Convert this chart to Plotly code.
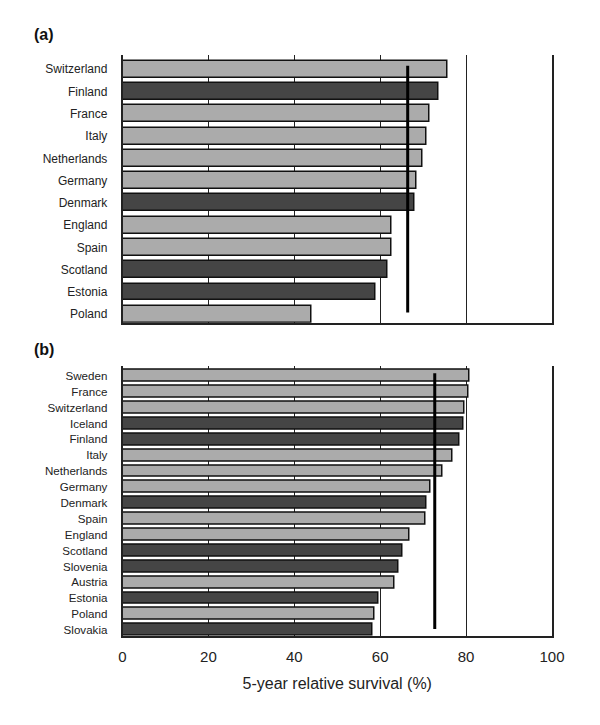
import plotly.graph_objects as go

# Panel (a)
countries_a = ["Switzerland", "Finland", "France", "Italy", "Netherlands", "Germany",
               "Denmark", "England", "Spain", "Scotland", "Estonia", "Poland"]
survival_a = [75.7, 73.5, 71.4, 70.7, 69.9, 68.5, 68.1, 62.6, 62.7, 61.7, 58.8, 44.0]
dark_a = [0, 1, 0, 0, 0, 0, 1, 0, 0, 1, 1, 0]
mean_a = 66.4

# Panel (b)
countries_b = ["Sweden", "France", "Switzerland", "Iceland", "Finland", "Italy", "Netherlands",
               "Germany", "Denmark", "Spain", "England", "Scotland", "Slovenia", "Austria",
               "Estonia", "Poland", "Slovakia"]
survival_b = [80.7, 80.5, 79.6, 79.3, 78.5, 76.9, 74.5, 71.8, 70.7, 70.5, 66.8, 65.2, 64.3,
              63.3, 59.6, 58.7, 58.3]
dark_b = [0, 0, 0, 1, 1, 0, 0, 0, 1, 0, 0, 1, 1, 0, 1, 0, 1]
mean_b = 72.7

x_ticks = [0, 20, 40, 60, 80, 100]

LIGHT = "#ababab"
DARK = "#454545"
FONT = "Liberation Sans, Arial, sans-serif"

W, H = 600, 725
x_left, x_right = 122.5, 552.0

def ydom(top, bottom):
    return [(H - bottom) / H, (H - top) / H]

fig = go.Figure()

fig.add_trace(go.Bar(
    x=survival_a, y=countries_a, orientation="h",
    marker=dict(color=[DARK if d else LIGHT for d in dark_a], line=dict(color="#111", width=1.5)),
    width=0.76, xaxis="x", yaxis="y", showlegend=False, hoverinfo="x+y"))

fig.add_trace(go.Bar(
    x=survival_b, y=countries_b, orientation="h",
    marker=dict(color=[DARK if d else LIGHT for d in dark_b], line=dict(color="#111", width=1.5)),
    width=0.75, xaxis="x2", yaxis="y2", showlegend=False, hoverinfo="x+y"))

na, nb = len(countries_a), len(countries_b)

xcommon = dict(range=[0, 100], tickvals=x_ticks,
               showgrid=True, gridcolor="#222", gridwidth=1.2,
               showline=True, linecolor="#222", linewidth=1.5,
               zeroline=False, ticks="", domain=[x_left / W, x_right / W],
               automargin=False,
               tickfont=dict(family=FONT, size=15, color="#222"))

fig.update_layout(
    width=W, height=H, autosize=False,
    margin=dict(l=0, r=0, t=0, b=0, pad=0, autoexpand=False),
    paper_bgcolor="white", plot_bgcolor="white",
    bargap=0,
    xaxis=dict(**xcommon, anchor="y", showticklabels=False),
    yaxis=dict(domain=ydom(55, 322.7), type="category", categoryorder="array",
               categoryarray=countries_a, range=[na - 1 + 0.38, -0.64],
               showline=True, mirror=True, linecolor="#222", linewidth=1.5,
               showgrid=False, ticks="", ticklabelstandoff=11, automargin=False,
               tickfont=dict(family=FONT, size=12, color="#222"), anchor="x"),
    xaxis2=dict(**xcommon, anchor="y2", showticklabels=True, ticklabelstandoff=7,
                title=dict(text="5-year relative survival (%)", standoff=13,
                           font=dict(family=FONT, size=16, color="#222"))),
    yaxis2=dict(domain=ydom(365.7, 635.7), type="category", categoryorder="array",
                categoryarray=countries_b, range=[nb - 1 + 0.36, -0.64],
                showline=True, mirror=True, linecolor="#222", linewidth=1.5,
                showgrid=False, ticks="", ticklabelstandoff=11, automargin=False,
                tickfont=dict(family=FONT, size=11.6, color="#222"), anchor="x2"),
    shapes=[
        dict(type="line", xref="x", yref="y", x0=mean_a, x1=mean_a, y0=-0.16, y1=na - 1 - 0.08,
             line=dict(color="black", width=3)),
        dict(type="line", xref="x2", yref="y2", x0=mean_b, x1=mean_b, y0=-0.16, y1=nb - 1 - 0.06,
             line=dict(color="black", width=3)),
    ],
    annotations=[
        dict(text="<b>(a)</b>", x=32 / W, y=(H - 35) / H, xref="paper", yref="paper",
             xanchor="left", yanchor="middle", showarrow=False,
             font=dict(family=FONT, size=16, color="#111")),
        dict(text="<b>(b)</b>", x=32 / W, y=(H - 349) / H, xref="paper", yref="paper",
             xanchor="left", yanchor="middle", showarrow=False,
             font=dict(family=FONT, size=16, color="#111")),
    ],
)

post = ("document.documentElement.style.margin='0';document.body.style.margin='0';"
        "document.body.style.padding='0';document.body.style.overflow='hidden';"
        "document.documentElement.style.overflow='hidden';"
        "var gd=document.getElementById('{plot_id}');"
        "Plotly.relayout(gd,{width:600,height:725});")

fig.write_html("out.html", post_script=post, config={"responsive": False, "displayModeBar": False})
